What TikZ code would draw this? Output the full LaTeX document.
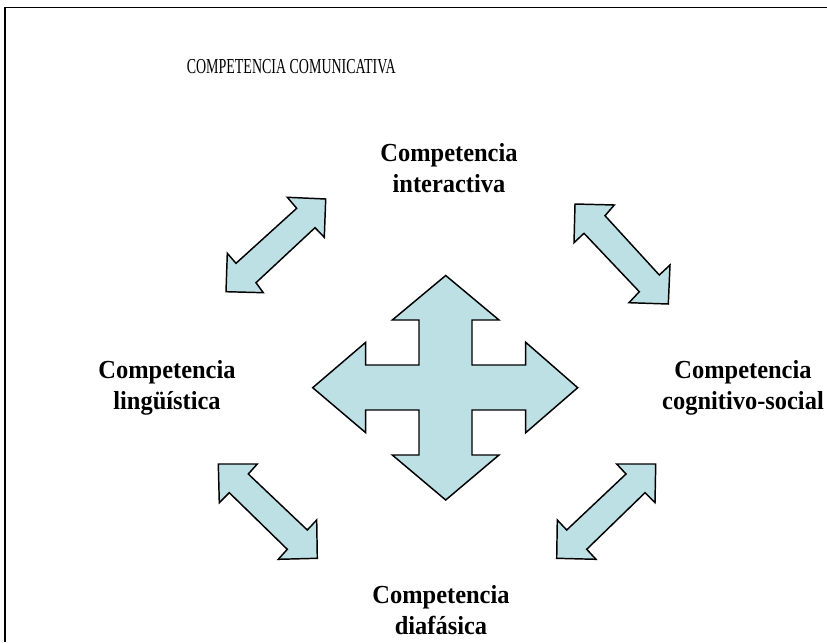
\documentclass[tikz,border=0pt]{standalone}
\usepackage{fontspec}
\setmainfont{Liberation Serif}
\definecolor{arrowfill}{RGB}{189,224,228}
\tikzset{
  px/.style={x=0.75pt,y=-0.75pt},
  shapearrow/.style={draw=black,fill=arrowfill,line width=1.1pt,line join=miter},
  label/.style={font=\bfseries\fontsize{19.5}{23.3}\selectfont,align=center,inner sep=0pt,anchor=base},
  titletext/.style={font=\fontsize{16}{18}\selectfont,inner sep=0pt,anchor=base}
}
\begin{document}
\begin{tikzpicture}[px]
\useasboundingbox (0,0) rectangle (827,642);
% frame
\draw[line width=1.1pt] (5,642) -- (5,7.5) -- (827,7.5);
% title
\node[titletext] (title) at (291.3,74) {\scalebox{0.655}[1]{COMPETENCIA COMUNICATIVA}};
% labels (anchor = baseline of last line)
\node[label] (inter) at (449,192.7) {\scalebox{0.94}[1]{Competencia}\\\scalebox{0.94}[1]{interactiva}};
\node[label] (ling) at (167,409.5) {\scalebox{0.94}[1]{Competencia}\\\scalebox{0.94}[1]{lingüística}};
\node[label] (cogn) at (743,409.5) {\scalebox{0.94}[1]{Competencia}\\\scalebox{0.94}[1]{cognitivo-social}};
\node[label] (diaf) at (441,634.3) {\scalebox{0.94}[1]{Competencia}\\\scalebox{0.94}[1]{diafásica}};
% central cross
\draw[shapearrow] (445.7,275.5) -- (499,320) -- (472,320) -- (472,365) -- (525.7,365) -- (525.7,342.3) -- (577.7,387.7) -- (525.7,432.7) -- (525.7,410) -- (472,410) -- (472,455) -- (499,455) -- (445.7,500) -- (392.3,455) -- (419,455) -- (419,410) -- (365.7,410) -- (365.7,432.7) -- (312.7,387.7) -- (365.7,342.3) -- (365.7,365) -- (419,365) -- (419,320) -- (392.3,320) -- cycle;
% upper-left double arrow
\draw[shapearrow] (325.7,199) -- (324.3,237.3) -- (315,227.7) -- (256,282.7) -- (263.3,292.7) -- (226,291.7) -- (227.3,253.3) -- (236,263.3) -- (296.7,208.3) -- (287.3,197.3) -- cycle;
% upper-right double arrow
\draw[shapearrow] (575,204) -- (614.3,205) -- (605,215.7) -- (659.3,275) -- (670,265) -- (668.3,304) -- (629,302.7) -- (639.3,291.7) -- (584,233.3) -- (574,242.7) -- cycle;
% lower-left double arrow
\draw[shapearrow] (218.3,464) -- (257.3,464) -- (248.3,474) -- (307.3,530) -- (316.7,520) -- (317.3,558.3) -- (278.3,559.3) -- (287.3,549.3) -- (229.3,492.7) -- (219.3,502.7) -- cycle;
% lower-right double arrow
\draw[shapearrow] (655.7,464) -- (655,502.7) -- (645,492.7) -- (586.7,549.3) -- (596,559.3) -- (556.7,558.3) -- (557.3,520) -- (566.7,530) -- (626,474) -- (616.7,464) -- cycle;
\end{tikzpicture}
\end{document}
